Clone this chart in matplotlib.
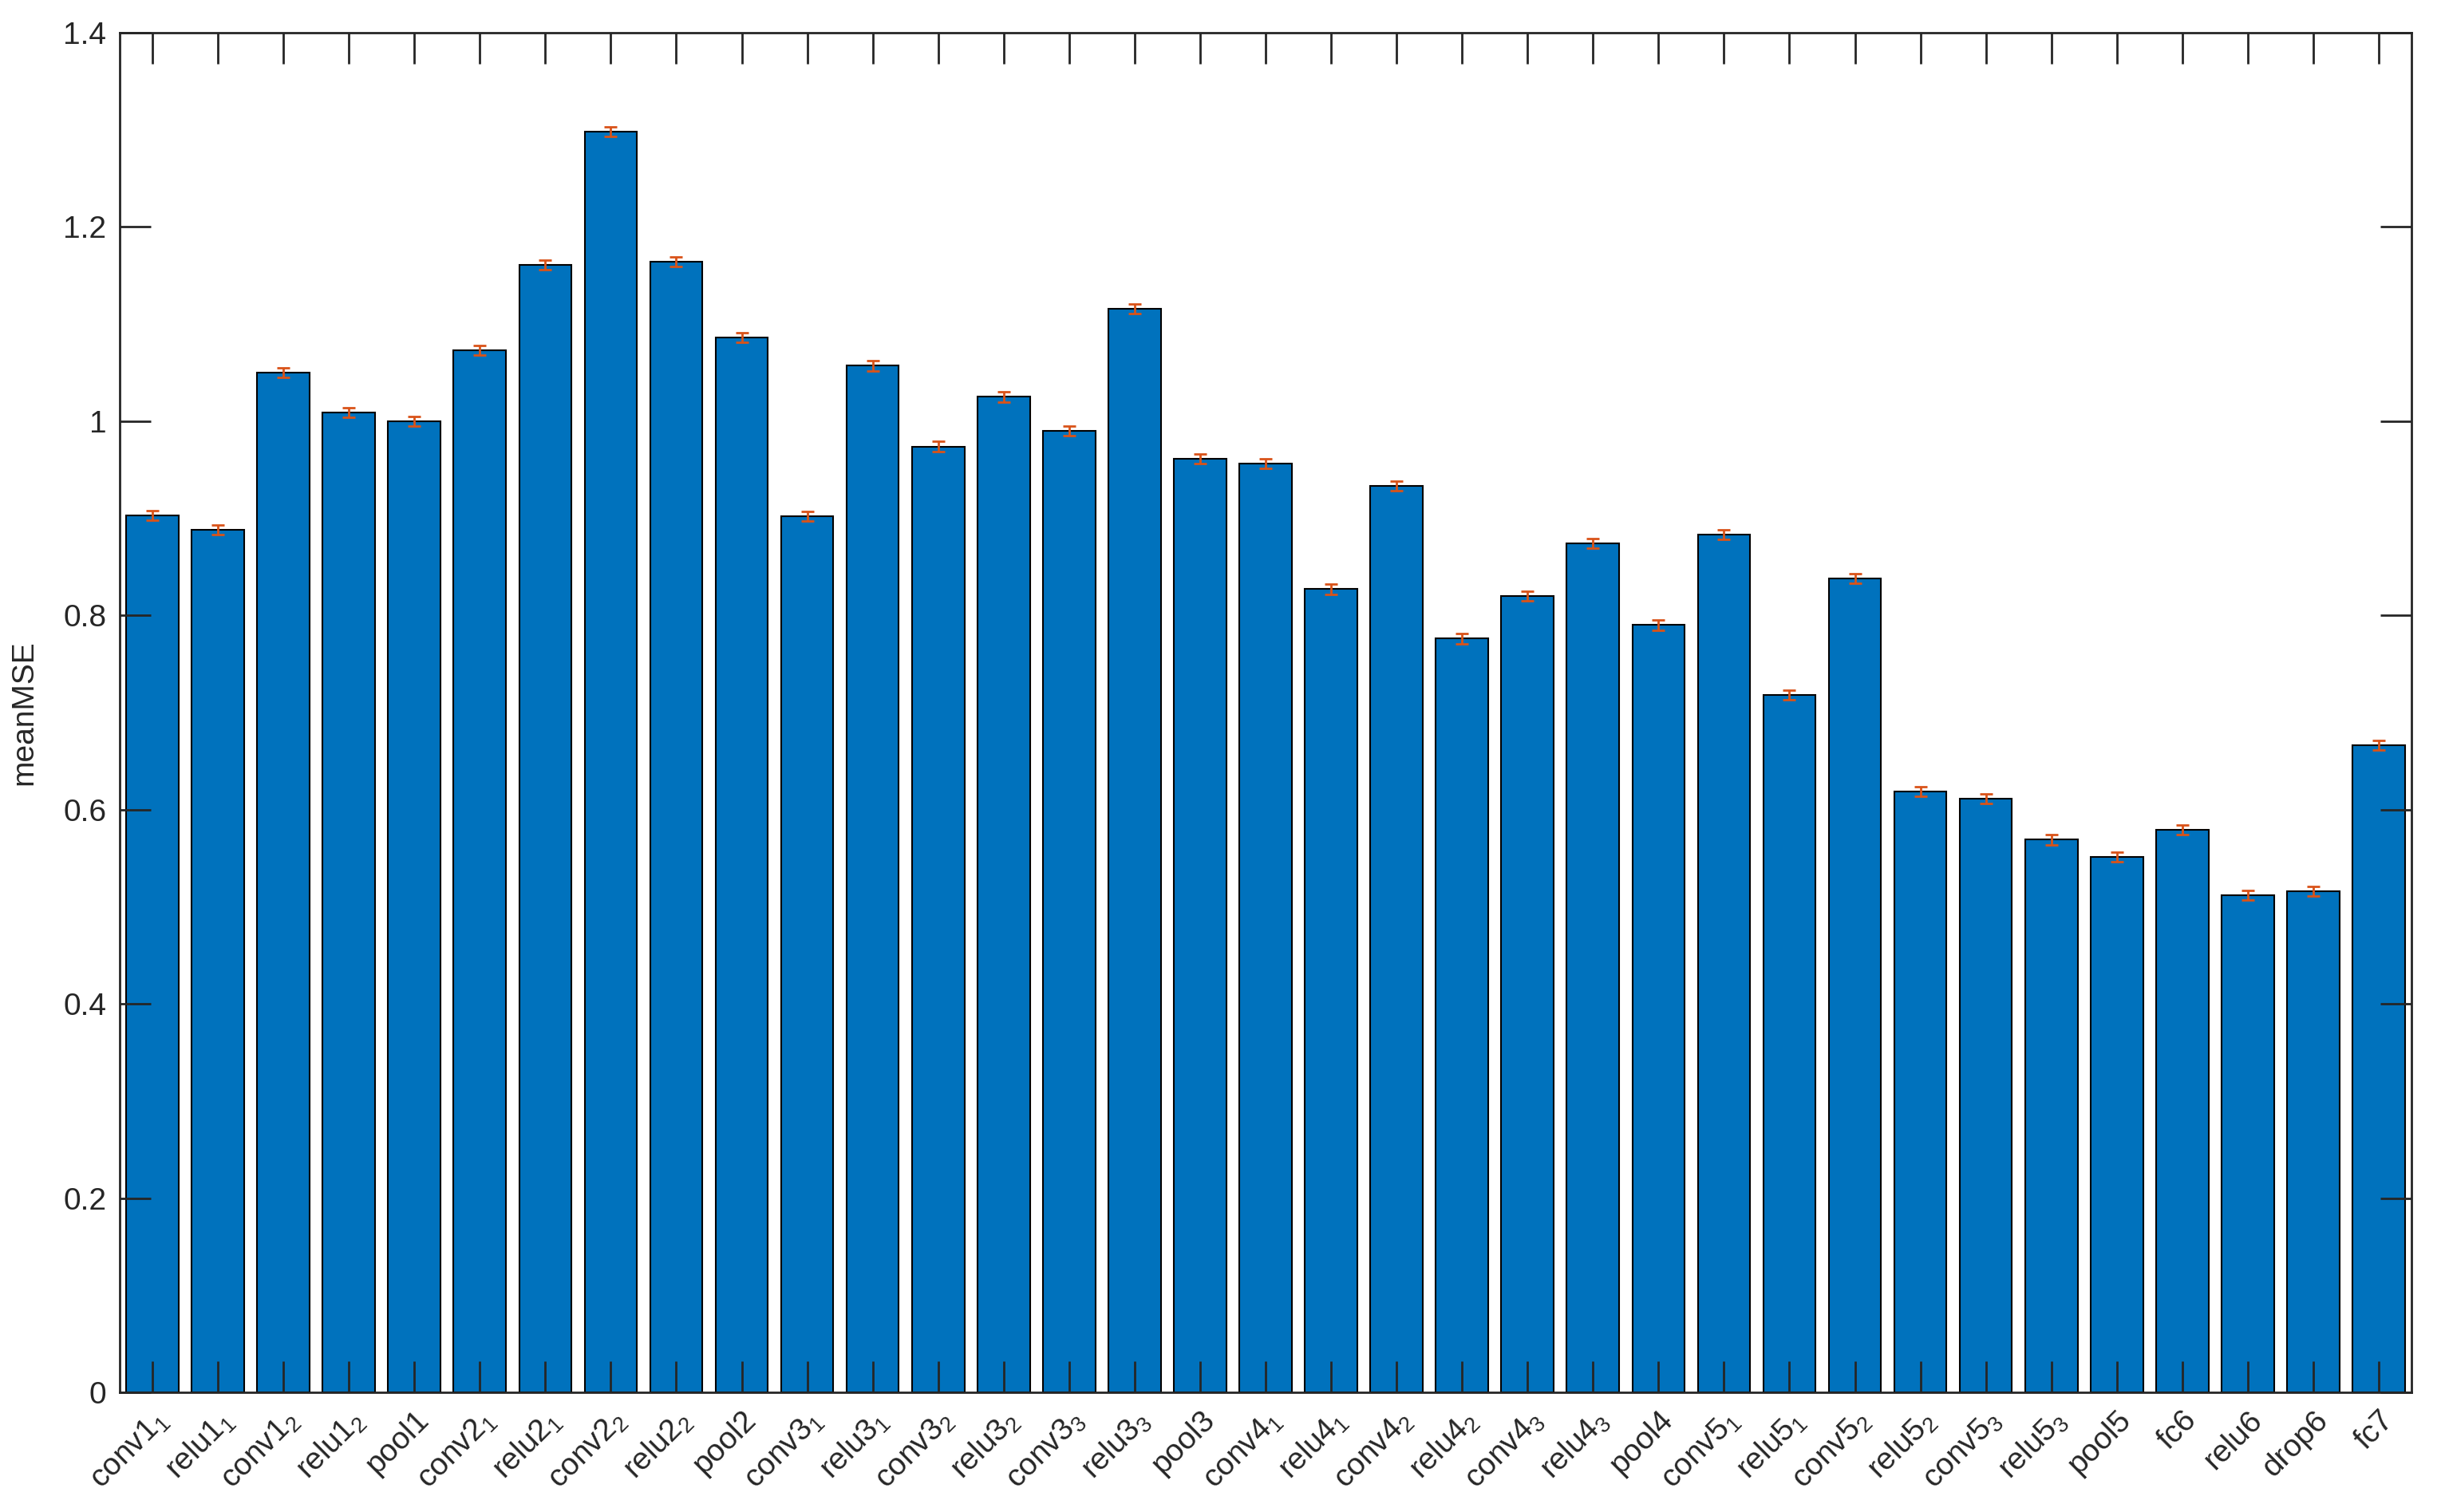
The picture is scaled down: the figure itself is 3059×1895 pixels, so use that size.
import matplotlib.pyplot as plt
import numpy as np

plt.rcParams['font.family'] = ['Liberation Sans', 'DejaVu Sans']
plt.rcParams['mathtext.fontset'] = 'custom'
plt.rcParams['mathtext.rm'] = 'Liberation Sans'

## Data
layers = ['conv1$_1$', 'relu1$_1$', 'conv1$_2$', 'relu1$_2$', 'pool1',
          'conv2$_1$', 'relu2$_1$', 'conv2$_2$', 'relu2$_2$', 'pool2',
          'conv3$_1$', 'relu3$_1$', 'conv3$_2$', 'relu3$_2$', 'conv3$_3$', 'relu3$_3$', 'pool3',
          'conv4$_1$', 'relu4$_1$', 'conv4$_2$', 'relu4$_2$', 'conv4$_3$', 'relu4$_3$', 'pool4',
          'conv5$_1$', 'relu5$_1$', 'conv5$_2$', 'relu5$_2$', 'conv5$_3$', 'relu5$_3$', 'pool5',
          'fc6', 'relu6', 'drop6', 'fc7']

mean_mse = [0.903, 0.888, 1.050, 1.009, 1.000,
            1.073, 1.161, 1.298, 1.164, 1.086,
            0.902, 1.057, 0.974, 1.025, 0.990, 1.116, 0.961,
            0.956, 0.827, 0.933, 0.776, 0.820, 0.874, 0.790,
            0.883, 0.718, 0.838, 0.619, 0.611, 0.569, 0.551,
            0.579, 0.512, 0.516, 0.666]

mse_err = [0.005] * len(mean_mse)

## Plot
fig = plt.figure(figsize=(30.59, 18.95), dpi=100)
ax = fig.add_axes([150 / 3059, 1 - 1745 / 1895, (3022 - 150) / 3059, (1745 - 41) / 1895])

x = np.arange(1, len(layers) + 1)
ax.bar(x, mean_mse, width=0.8, color='#0072BD', edgecolor='black', linewidth=1.5)
ax.errorbar(x, mean_mse, yerr=mse_err, fmt='none', ecolor='#D95319',
            elinewidth=2, capsize=6, capthick=2)

ax.set_xlim(0.5, len(layers) + 0.5)
ax.set_ylim(0, 1.4)
ax.set_yticks(np.arange(0, 1.41, 0.2))
ax.set_yticklabels(['0', '0.2', '0.4', '0.6', '0.8', '1', '1.2', '1.4'])
ax.set_xticks(x)
ax.set_xticklabels(layers, rotation=45, ha='right', rotation_mode='anchor')
ax.set_ylabel('meanMSE', fontsize=28, color='#262626', labelpad=22)

ax.tick_params(axis='both', direction='in', length=28, width=2, colors='#262626',
               labelsize=28, top=True, right=True, pad=12)
for s in ax.spines.values():
    s.set_color('#262626')
    s.set_linewidth(2)

plt.savefig('out.png', dpi=100)
